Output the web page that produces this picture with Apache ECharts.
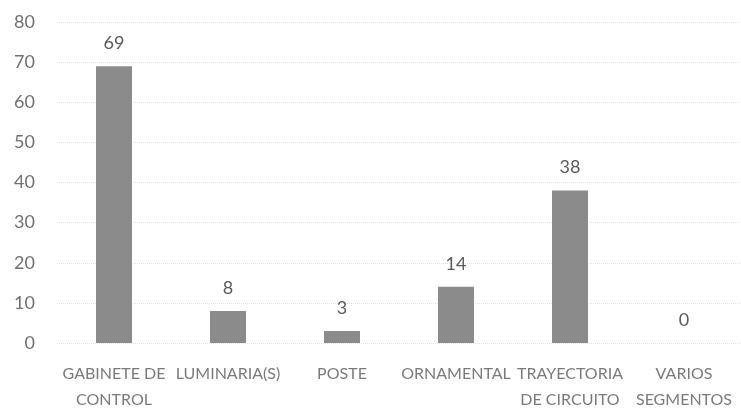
<!DOCTYPE html>
<html>
<head>
<meta charset="utf-8">
<script src="https://cdn.jsdelivr.net/npm/echarts@6/dist/echarts.min.js"></script>
<style>
  html, body { margin: 0; padding: 0; background: #fff; }
  #chart { width: 741px; height: 413px; }
</style>
</head>
<body>
<div id="chart"></div>
<script>
// datos
const categorias = ['GABINETE DE\nCONTROL', 'LUMINARIA(S)', 'POSTE', 'ORNAMENTAL', 'TRAYECTORIA\nDE CIRCUITO', 'VARIOS\nSEGMENTOS']
const valores = [69, 8, 3, 14, 38, 0]
const ejeY = { min: 0, max: 80, interval: 10 }

const chart = echarts.init(document.getElementById('chart'))
chart.setOption({
  backgroundColor: '#fff',
  animation: false,
  textStyle: { fontFamily: 'Lato' },
  grid: { left: 57, right: -6, top: 22, bottom: 63 },
  xAxis: {
    type: 'category',
    data: categorias,
    axisLine: { show: false },
    axisTick: { show: false },
    axisLabel: {
      interval: 0,
      margin: 18,
      color: '#7a7a7a',
      fontSize: 16,
      lineHeight: 26
    }
  },
  yAxis: {
    type: 'value',
    min: ejeY.min,
    max: ejeY.max,
    interval: ejeY.interval,
    axisLine: { show: false },
    axisTick: { show: false },
    axisLabel: { color: '#707070', fontSize: 18, margin: 22 },
    splitLine: { lineStyle: { color: '#e2e2e2', type: 'dotted', width: 1 } }
  },
  series: [{
    type: 'bar',
    data: valores,
    barWidth: 36,
    itemStyle: { color: '#8b8b8b' },
    label: {
      show: true,
      position: 'top',
      distance: 14,
      color: '#5a5a5a',
      fontSize: 18
    }
  }]
})
</script>
</body>
</html>
